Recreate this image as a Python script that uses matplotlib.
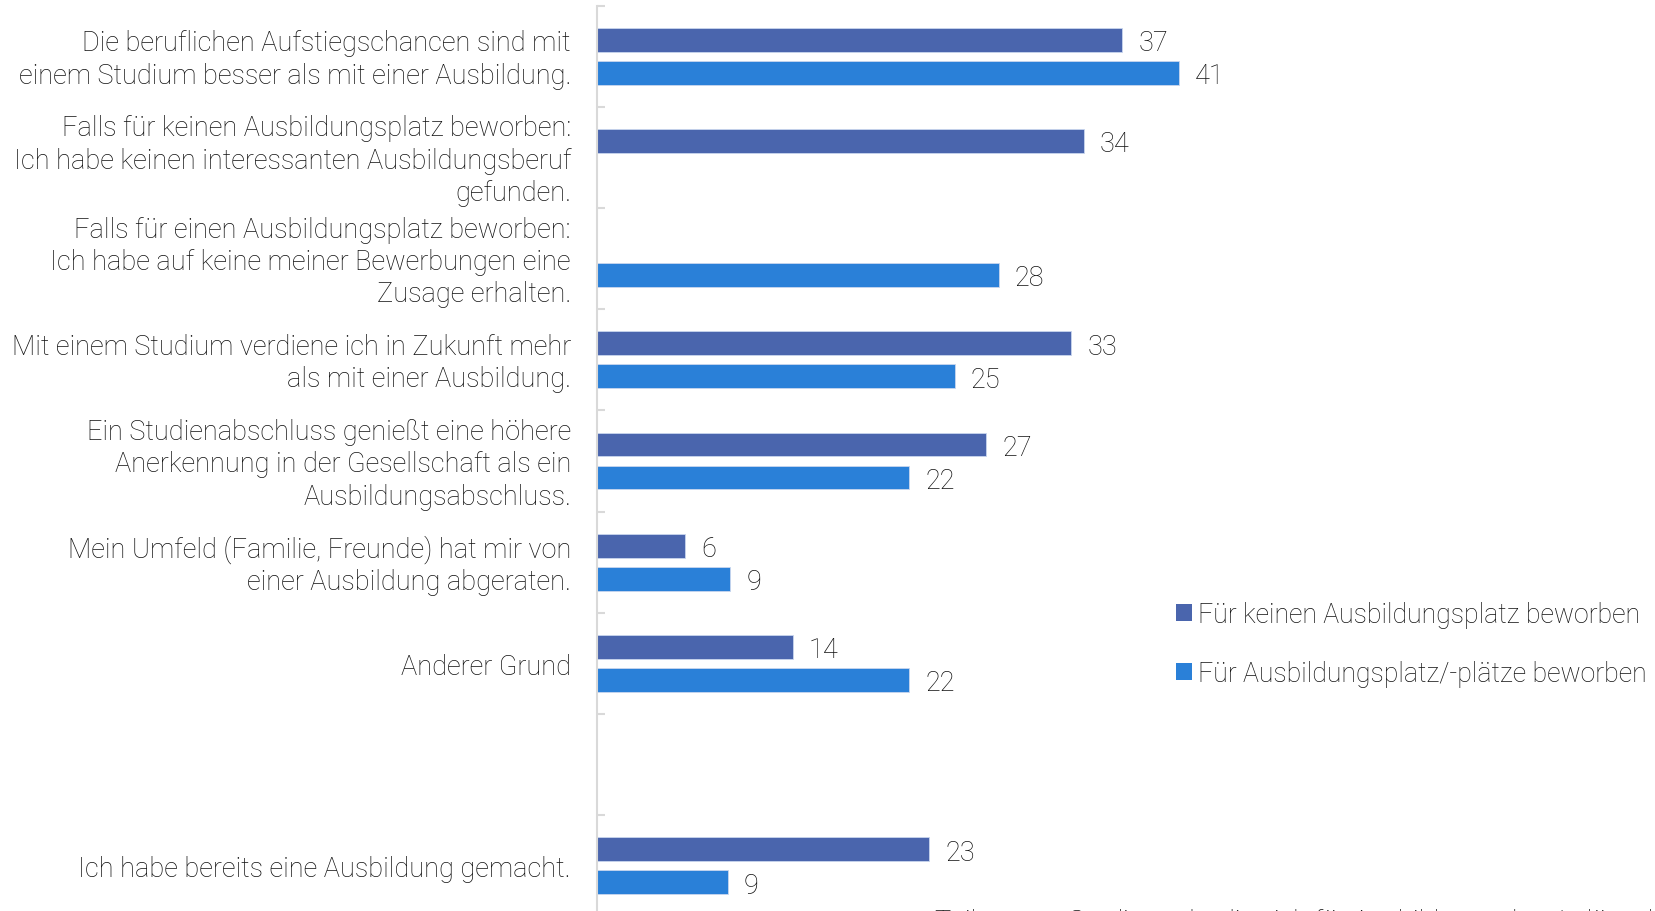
import matplotlib
matplotlib.use("Agg")
import matplotlib.pyplot as plt
from matplotlib.patches import Patch
from matplotlib.ticker import FixedLocator
import numpy as np

categories = [
    "Die beruflichen Aufstiegschancen sind mit\neinem Studium besser als mit einer Ausbildung.",
    "Falls für keinen Ausbildungsplatz beworben:\nIch habe keinen interessanten Ausbildungsberuf\ngefunden.",
    "Falls für einen Ausbildungsplatz beworben:\nIch habe auf keine meiner Bewerbungen eine\nZusage erhalten.",
    "Mit einem Studium verdiene ich in Zukunft mehr\nals mit einer Ausbildung.",
    "Ein Studienabschluss genießt eine höhere\nAnerkennung in der Gesellschaft als ein\nAusbildungsabschluss.",
    "Mein Umfeld (Familie, Freunde) hat mir von\neiner Ausbildung abgeraten.",
    "Anderer Grund",
    "",
    "Ich habe bereits eine Ausbildung gemacht.",
]
series_names = ["Für keinen Ausbildungsplatz beworben",
                "Für Ausbildungsplatz/-plätze beworben"]
values_keinen = [37.0, 34.3, None, 33.4, 27.4, 6.2, 13.8, None, 23.4]
values_beworben = [41.0, None, 28.3, 25.2, 22.0, 9.4, 22.0, None, 9.2]
footnote = "Teilmenge: Studierende, die sich für Ausbildungsplatz/-plätze beworben haben"

col_dark = "#4A65AD"
col_light = "#2A80D8"
text_col = "#111111"
FONT = ["Roboto", "DejaVu Sans"]
fs = 19.5

W, H = 1655, 912
DPI = 100
PT = 72 / DPI  # points per pixel
fig = plt.figure(figsize=(W / DPI, H / DPI), dpi=DPI)
x0 = 597
top = 6.6
pitch = 101.2
n = len(categories)
bottom = top + n * pitch
ax = fig.add_axes([x0 / W, 1 - bottom / H, 1 - x0 / W, (bottom - top) / H])

scale = 14.2  # px per unit
ax.set_xlim(0, (W - x0) / scale)
ax.set_ylim(n - 0.5, -0.5)

TXT_DY = -2.8  # px, visual centring correction

bh = 0.235
off = 0.163
y = np.arange(n)
for i in range(n):
    for vals, col, o in ((values_keinen, col_dark, -off), (values_beworben, col_light, off)):
        v = vals[i]
        if v is None:
            continue
        ax.barh(y[i] + o, v, height=bh, color=col, edgecolor="#C9D6EE", linewidth=0.6)
        ax.annotate(str(int(round(v))), xy=(v, y[i] + o), xycoords="data",
                    xytext=(16 * PT, TXT_DY * PT), textcoords="offset points",
                    va="center", ha="left", fontsize=fs, color=text_col,
                    family=FONT, fontweight="light", annotation_clip=False)

# category labels, one text per line for exact line spacing
line_gap = 32.3  # px
for i, lab in enumerate(categories):
    if not lab:
        continue
    lines = lab.split("\n")
    m = len(lines)
    for k, line in enumerate(lines):
        dy = -(k - (m - 1) / 2) * line_gap + TXT_DY
        ax.annotate(line, xy=(0, y[i]), xycoords=("axes fraction", "data"),
                    xytext=(-26 * PT, dy * PT), textcoords="offset points",
                    ha="right", va="center", fontsize=fs, color=text_col,
                    family=FONT, fontweight="light", annotation_clip=False)

for s in ["top", "right", "bottom"]:
    ax.spines[s].set_visible(False)
ax.spines["left"].set_color("#D9D9D9")
ax.spines["left"].set_linewidth(1.5)
ax.set_xticks([])
ax.set_yticks(y)
ax.set_yticklabels([])
ax.tick_params(axis="y", which="major", length=0)
ax.yaxis.set_minor_locator(FixedLocator(np.arange(-0.5, n, 1.0)))
ax.tick_params(axis="y", which="minor", length=6, width=1.5, color="#D9D9D9", direction="in")

handles = [Patch(facecolor=col_dark, edgecolor="none"), Patch(facecolor=col_light, edgecolor="none")]
leg = fig.legend(handles, series_names, loc="upper left",
                 bbox_to_anchor=(1152 / W, 1 - 578 / H), frameon=False,
                 prop={"family": "Roboto", "size": 19.2, "weight": "light"},
                 handlelength=0.6, handleheight=0.6, handletextpad=0.22,
                 labelspacing=1.2, labelcolor=text_col)

fig.text(935 / W, 1 - 930 / H, footnote, ha="left", va="baseline",
         fontsize=fs, color=text_col, family=FONT, fontweight="light")

fig.savefig("out.png", dpi=DPI)
